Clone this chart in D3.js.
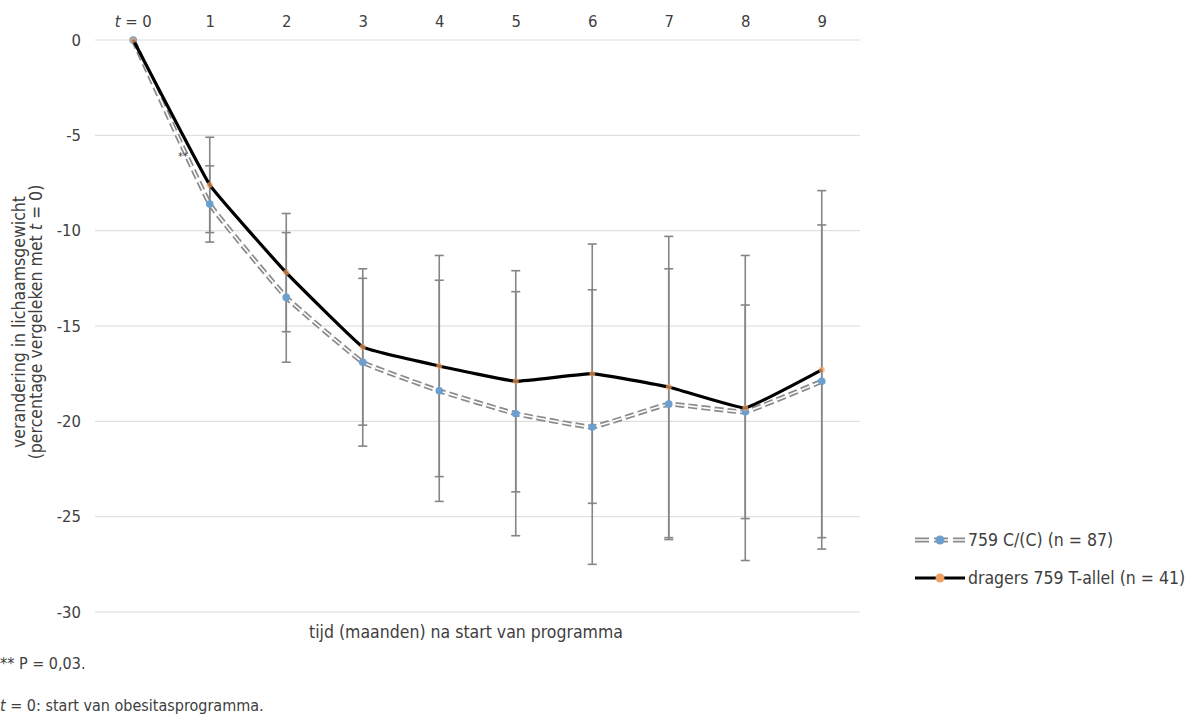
<!DOCTYPE html>
<html>
<head>
<meta charset="utf-8">
<script src="https://cdn.jsdelivr.net/npm/d3@7"></script>
<style>
body{margin:0;background:#fff}
text{font-family:"DejaVu Sans Condensed","DejaVu Sans",sans-serif;fill:#404040}
</style>
</head>
<body>
<div id="chart"></div>
<script>
var months = [0,1,2,3,4,5,6,7,8,9]
var yTicks = [0,-5,-10,-15,-20,-25,-30]
// 759 C/(C)
var ccMean = [0,-8.6,-13.5,-16.9,-18.4,-19.6,-20.3,-19.1,-19.5,-17.9]
var ccErr  = [0,2.0,3.4,4.4,5.8,6.4,7.2,7.1,5.6,8.2]
// dragers 759 T-allel
var ttMean = [0,-7.6,-12.2,-16.1,-17.1,-17.9,-17.5,-18.2,-19.3,-17.3]
var ttErr  = [0,2.5,3.1,4.1,5.8,5.8,6.8,7.9,8.0,9.4]
var labels = ["759 C/(C) (n = 87)","dragers 759 T-allel (n = 41)"]

var W=1197,H=717,fs="16.5px",fs2="17.5px"
var svg=d3.select("#chart").append("svg").attr("width",W).attr("height",H)

var x=d3.scalePoint().domain(months).range([95,860]).padding(0.5)
var y=d3.scaleLinear().domain([-30,0]).range([612,40])

// grid
svg.append("g").selectAll("line").data(yTicks).enter().append("line")
	.attr("x1",95).attr("x2",860)
	.attr("y1",function(d){return y(d)}).attr("y2",function(d){return y(d)})
	.attr("stroke","#d9d9d9").attr("stroke-width",1)

// y axis labels
var yAxis=svg.append("g").attr("transform","translate(81,0)")
	.call(d3.axisLeft(y).tickValues(yTicks).tickSize(0).tickPadding(0).tickFormat(function(d){return String(d)}))
yAxis.select(".domain").remove()
yAxis.selectAll("text").attr("font-size",fs).style("font-family",null).attr("fill","#404040")

// x axis labels on top
var xAxis=svg.append("g").attr("transform","translate(0,27)")
	.call(d3.axisTop(x).tickSize(0).tickPadding(0).tickFormat(function(d){return d==0?"":d}))
xAxis.select(".domain").remove()
xAxis.selectAll("text").attr("font-size",fs).style("font-family",null).attr("fill","#404040")
var t0=svg.append("text").attr("x",x(0)).attr("y",27).attr("text-anchor","middle").attr("font-size",fs)
t0.append("tspan").attr("font-style","italic").text("t")
t0.append("tspan").text(" = 0")

// error bars
function errBars(mean,err){
	var g=svg.append("g").attr("stroke","#858585").attr("stroke-width",1.6)
	var d=months.filter(function(m,i){return err[i]>0})
	g.selectAll(".v").data(d).enter().append("line")
		.attr("x1",function(m){return x(m)}).attr("x2",function(m){return x(m)})
		.attr("y1",function(m){return y(mean[m]+err[m])}).attr("y2",function(m){return y(mean[m]-err[m])})
	;[1,-1].forEach(function(s){
		g.selectAll(".c"+s).data(d).enter().append("line")
			.attr("x1",function(m){return x(m)-4.5}).attr("x2",function(m){return x(m)+4.5})
			.attr("y1",function(m){return y(mean[m]+s*err[m])}).attr("y2",function(m){return y(mean[m]+s*err[m])})
	})
}
errBars(ccMean,ccErr)
errBars(ttMean,ttErr)

var line=d3.line().x(function(d,i){return x(months[i])}).y(function(d){return y(d)}).curve(d3.curveCardinal.tension(0.75))

// double dashed grey line
svg.append("path").attr("d",line(ccMean)).attr("fill","none").attr("stroke","#8a8a8a").attr("stroke-width",5).attr("stroke-dasharray","9,4")
svg.append("path").attr("d",line(ccMean)).attr("fill","none").attr("stroke","#fff").attr("stroke-width",1.6).attr("stroke-dasharray","9,4")
svg.append("g").selectAll("circle").data(ccMean).enter().append("circle")
	.attr("cx",function(d,i){return x(months[i])}).attr("cy",function(d){return y(d)}).attr("r",3.8).attr("fill","#6a9fd0")

svg.append("path").attr("d",line(ttMean)).attr("fill","none").attr("stroke","#000").attr("stroke-width",3.2)
svg.append("g").selectAll("circle").data(ttMean).enter().append("circle")
	.attr("cx",function(d,i){return x(months[i])}).attr("cy",function(d){return y(d)}).attr("r",3).attr("fill","#f0a060").attr("opacity",0.7)

// significance mark
svg.append("text").attr("x",x(0)+0.65*(x(1)-x(0))).attr("y",y(-6.3)).attr("text-anchor","middle").attr("font-size","11px").attr("fill","#555").text("**")

// axis titles
var yt=svg.append("text").attr("transform","translate(25,322) rotate(-90)").attr("text-anchor","middle").attr("font-size",fs2)
yt.append("tspan").attr("x",0).attr("dy",0).text("verandering in lichaamsgewicht")
var l2=yt.append("tspan").attr("x",0).attr("dy",16.5)
l2.append("tspan").text("(percentage vergeleken met ")
l2.append("tspan").attr("font-style","italic").text("t")
l2.append("tspan").text(" = 0)")

svg.append("text").attr("x",466).attr("y",638).attr("text-anchor","middle").attr("font-size",fs2).text("tijd (maanden) na start van programma")

// legend
var lg=svg.append("g").attr("transform","translate(915,0)")
lg.append("line").attr("x1",0).attr("x2",50).attr("y1",540).attr("y2",540).attr("stroke","#8a8a8a").attr("stroke-width",5).attr("stroke-dasharray","14,5")
lg.append("line").attr("x1",0).attr("x2",50).attr("y1",540).attr("y2",540).attr("stroke","#fff").attr("stroke-width",1.6)
lg.append("circle").attr("cx",25).attr("cy",540).attr("r",4.5).attr("fill","#6a9fd0")
lg.append("line").attr("x1",0).attr("x2",50).attr("y1",578).attr("y2",578).attr("stroke","#000").attr("stroke-width",3.2)
lg.append("circle").attr("cx",25).attr("cy",578).attr("r",4.5).attr("fill","#f0a060")
lg.selectAll(".lt").data(labels).enter().append("text")
	.attr("x",53).attr("y",function(d,i){return 546+i*38}).attr("font-size",fs2).text(function(d){return d})

// footnotes
svg.append("text").attr("x",0).attr("y",669).attr("font-size","16px").text("** P = 0,03.")
var fn=svg.append("text").attr("x",0).attr("y",711).attr("font-size","16px")
fn.append("tspan").attr("font-style","italic").text("t")
fn.append("tspan").text(" = 0: start van obesitasprogramma.")
</script>
</body>
</html>
